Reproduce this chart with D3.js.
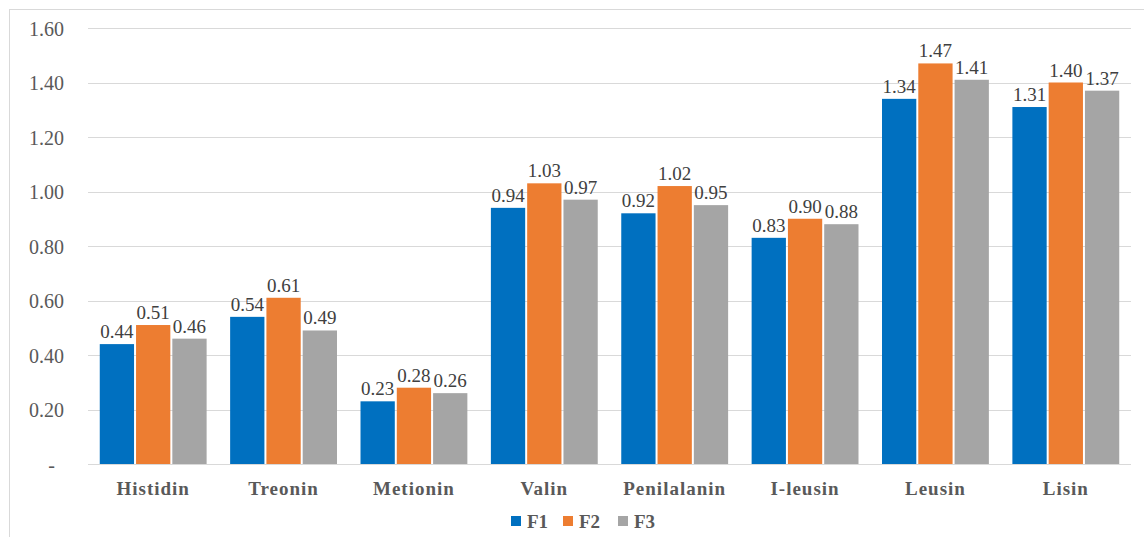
<!DOCTYPE html>
<html><head><meta charset="utf-8">
<script src="https://cdn.jsdelivr.net/npm/d3@7"></script>
<style>
html,body{margin:0;padding:0;background:#fff;}
svg text{font-family:"Liberation Serif","Times New Roman",serif;}
</style></head>
<body><svg id="c" width="1144" height="537"></svg>
<script>
const categories = ["Histidin","Treonin","Metionin","Valin","Penilalanin","I-leusin","Leusin","Lisin"];
const seriesNames = ["F1","F2","F3"];
const F1 = [0.44,0.54,0.23,0.94,0.92,0.83,1.34,1.31];
const F2 = [0.51,0.61,0.28,1.03,1.02,0.90,1.47,1.40];
const F3 = [0.46,0.49,0.26,0.97,0.95,0.88,1.41,1.37];
const yTicks = [0,0.2,0.4,0.6,0.8,1.0,1.2,1.4,1.6];
const colors = ["#0070C0","#ED7D31","#A5A5A5"];

const svg = d3.select("#c");
const W=1144,H=537;
svg.append("rect").attr("x",9.5).attr("y",9.5).attr("width",W).attr("height",H)
  .attr("fill","#fff").attr("stroke","#d9d9d9").attr("stroke-width",1);

const x0 = d3.scaleBand().domain(categories).range([88,1131]).paddingInner(0.165).paddingOuter(0.0825);
const x1 = d3.scaleBand().domain(seriesNames).range([0,x0.bandwidth()]).padding(0);
const y = d3.scaleLinear().domain([0,1.6]).range([464,28]);

const grid = svg.append("g");
grid.selectAll("line").data(yTicks).join("line")
  .attr("x1",88).attr("x2",1131).attr("y1",d=>Math.round(y(d))+0.5).attr("y2",d=>Math.round(y(d))+0.5)
  .attr("stroke","#d9d9d9").attr("stroke-width",1);

const yAxis = d3.axisLeft(y).tickValues(yTicks).tickSize(0).tickPadding(0)
  .tickFormat(d=> d===0 ? "-" : d3.format(".2f")(d));
const ya = svg.append("g").attr("transform","translate(64,0)").call(yAxis);
ya.select(".domain").remove();
ya.selectAll("text").attr("font-size",20).attr("fill","#595959").attr("dy","0.35em")
  .attr("dx",d=>d===0?-9:0);

const data = categories.map((c,i)=>({cat:c, vals:[F1[i],F2[i],F3[i]]}));
const g = svg.selectAll("g.grp").data(data).join("g").attr("class","grp")
  .attr("transform",d=>`translate(${x0(d.cat)},0)`);
g.selectAll("rect").data(d=>d.vals.map((v,j)=>({v,s:seriesNames[j],j}))).join("rect")
  .attr("x",d=>x1(d.s)+1).attr("width",x1.bandwidth()-2)
  .attr("y",d=>y(d.v)).attr("height",d=>y(0)-y(d.v))
  .attr("fill",d=>colors[d.j]);
g.selectAll("text").data(d=>d.vals.map((v,j)=>({v,s:seriesNames[j],j}))).join("text")
  .attr("x",d=>x1(d.s)+x1.bandwidth()/2).attr("y",d=>y(d.v)-6)
  .attr("text-anchor","middle").attr("font-size",19).attr("fill","#404040")
  .text(d=>d3.format(".2f")(d.v));

const xAxis = d3.axisBottom(x0).tickSize(0).tickPadding(0);
const xa = svg.append("g").attr("transform","translate(0,488)").call(xAxis);
xa.select(".domain").remove();
xa.selectAll("text").attr("font-size",19).attr("font-weight","bold").attr("fill","#595959")
  .attr("letter-spacing","1px").attr("dy","0.35em");

const leg = svg.append("g").attr("transform","translate(511,521)");
const li = leg.selectAll("g").data(seriesNames).join("g").attr("transform",(d,i)=>`translate(${[0,52,107][i]},0)`);
li.append("rect").attr("x",0).attr("y",-5).attr("width",10).attr("height",10).attr("fill",(d,i)=>colors[i]);
li.append("text").attr("x",16).attr("y",0).attr("dy","0.35em").attr("font-size",19).attr("font-weight","bold")
  .attr("fill","#595959").text(d=>d);
</script></body></html>
